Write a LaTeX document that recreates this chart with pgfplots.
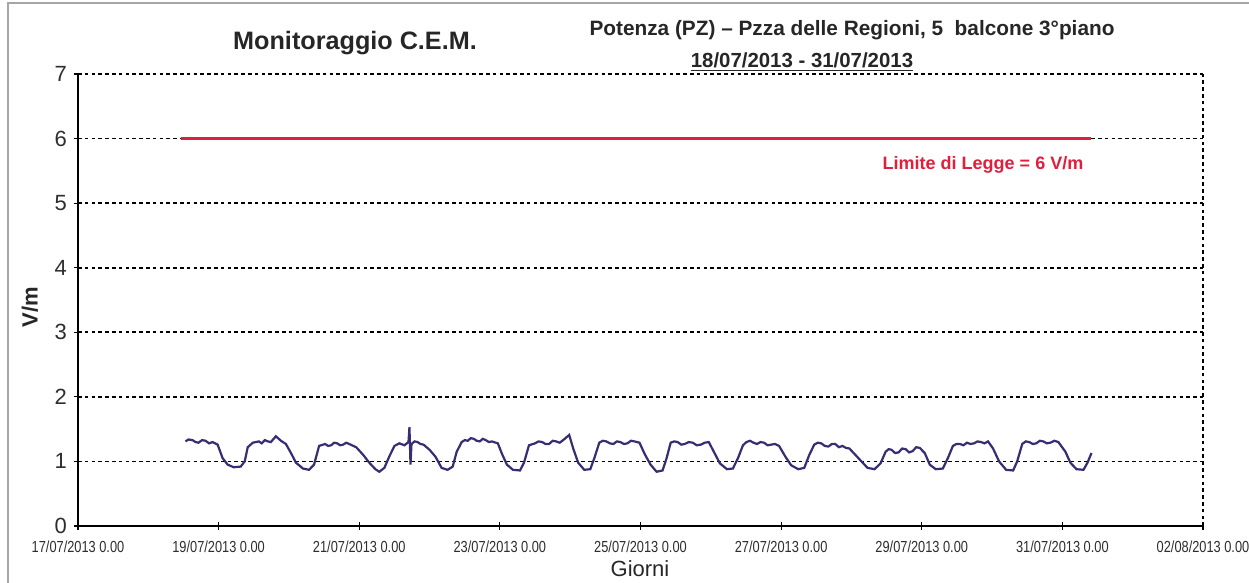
\documentclass[border=0pt]{standalone}
\usepackage{fontspec}
\setmainfont{Liberation Sans}
\usepackage{graphicx}
\usepackage{pgfplots}
\pgfplotsset{compat=1.18}
\definecolor{dataline}{RGB}{55,45,115}
\definecolor{limitred}{RGB}{225,30,60}
\definecolor{ticktext}{RGB}{45,45,50}
\newcommand{\xl}[1]{\scalebox{0.8}[1]{#1}}
\begin{document}
\begin{tikzpicture}
\useasboundingbox (-39pt,-28.5pt) rectangle (585.5pt,263pt);
\draw[gray!70, line width=0.8pt] (-35pt,-28.5pt) -- (-35pt,261.5pt) -- (585.5pt,261.5pt);
\begin{axis}[
  at={(0,0)}, anchor=south west,
  scale only axis,
  width=562.5pt, height=226pt,
  xmin=0, xmax=16, ymin=0, ymax=7,
  axis x line*=bottom, axis y line*=left,
  axis line style={black, line width=0.9pt, -},
  xtick={0,2,4,6,8,10,12,14,16},
  xticklabels={\xl{17/07/2013 0.00},\xl{19/07/2013 0.00},\xl{21/07/2013 0.00},\xl{23/07/2013 0.00},\xl{25/07/2013 0.00},\xl{27/07/2013 0.00},\xl{29/07/2013 0.00},\xl{31/07/2013 0.00},\xl{02/08/2013 0.00}},
  ytick={0,1,2,3,4,5,6,7},
  tick align=center,
  major tick length=4pt,
  tick style={black, line width=0.6pt},
  ymajorgrids,
  major grid style={black, line width=0.8pt, dash pattern=on 1.8pt off 1.6pt},
  /pgf/number format/assume math mode=true,
  yticklabel style={font=\fontsize{11}{11}\selectfont, text=ticktext},
  xticklabel style={font=\fontsize{8}{8}\selectfont, text=ticktext, yshift=-2pt},
  clip=false,
]
\draw[black, line width=0.8pt, dash pattern=on 1.8pt off 1.6pt] (axis cs:16,0) -- (axis cs:16,7);
\addplot[limitred, line width=1.5pt] coordinates {(1.47,6) (14.41,6)};
\addplot[dataline, line width=1.1pt] coordinates {
(1.529,1.31) (1.571,1.34) (1.629,1.33) (1.671,1.30) (1.714,1.29) (1.764,1.33) (1.814,1.32) (1.864,1.28) (1.914,1.30) (1.986,1.26)
(2.057,1.05) (2.129,0.95) (2.214,0.91) (2.314,0.92) (2.371,1.00) (2.414,1.22) (2.486,1.29) (2.571,1.31) (2.614,1.28) (2.657,1.33) (2.700,1.31) (2.743,1.30) (2.814,1.39) (2.886,1.32) (2.957,1.27)
(3.029,1.13) (3.100,0.98) (3.200,0.89) (3.286,0.87) (3.357,0.95) (3.429,1.24) (3.514,1.27) (3.557,1.24) (3.600,1.25) (3.643,1.29) (3.686,1.28) (3.729,1.25) (3.771,1.26) (3.814,1.29) (3.857,1.27) (3.957,1.22)
(4.057,1.10) (4.143,0.98) (4.229,0.88) (4.286,0.84) (4.357,0.90) (4.429,1.08) (4.500,1.24) (4.571,1.28) (4.643,1.25) (4.700,1.30) (4.714,1.53) (4.729,0.95) (4.743,1.27) (4.786,1.31) (4.829,1.30) (4.871,1.27) (4.914,1.26)
(5.000,1.18) (5.086,1.07) (5.171,0.90) (5.257,0.87) (5.329,0.92) (5.386,1.15) (5.457,1.30) (5.500,1.33) (5.543,1.32) (5.586,1.36) (5.629,1.35) (5.671,1.32) (5.714,1.31) (5.757,1.35) (5.800,1.33) (5.843,1.30) (5.886,1.31) (5.971,1.28)
(6.029,1.12) (6.100,0.95) (6.186,0.87) (6.286,0.86) (6.343,0.98) (6.414,1.25) (6.500,1.28) (6.550,1.31) (6.600,1.30) (6.650,1.27) (6.700,1.27) (6.750,1.32) (6.800,1.31) (6.850,1.29) (6.900,1.33) (6.986,1.41)
(7.043,1.20) (7.114,0.98) (7.200,0.87) (7.286,0.88) (7.343,1.05) (7.414,1.29) (7.464,1.32) (7.514,1.31) (7.564,1.28) (7.614,1.27) (7.664,1.31) (7.714,1.30) (7.764,1.27) (7.814,1.28) (7.864,1.32) (7.914,1.31) (7.986,1.29)
(8.057,1.12) (8.143,0.95) (8.229,0.84) (8.314,0.86) (8.371,1.05) (8.429,1.29) (8.479,1.31) (8.529,1.30) (8.579,1.26) (8.629,1.27) (8.686,1.30) (8.743,1.29) (8.800,1.25) (8.857,1.26) (8.914,1.29) (8.971,1.30)
(9.043,1.15) (9.129,0.97) (9.229,0.88) (9.314,0.89) (9.386,1.05) (9.457,1.25) (9.507,1.30) (9.557,1.32) (9.607,1.29) (9.657,1.27) (9.707,1.30) (9.757,1.29) (9.807,1.25) (9.857,1.26) (9.914,1.27) (9.971,1.24)
(10.057,1.08) (10.143,0.94) (10.243,0.88) (10.329,0.90) (10.400,1.10) (10.471,1.26) (10.521,1.29) (10.571,1.28) (10.621,1.24) (10.671,1.23) (10.721,1.27) (10.771,1.27) (10.821,1.22) (10.871,1.24) (10.921,1.21) (10.971,1.20)
(11.057,1.10) (11.143,1.00) (11.229,0.90) (11.329,0.88) (11.414,0.97) (11.486,1.15) (11.529,1.19) (11.571,1.18) (11.621,1.13) (11.671,1.14) (11.721,1.20) (11.771,1.19) (11.821,1.14) (11.871,1.16) (11.921,1.22) (11.971,1.21)
(12.043,1.13) (12.114,0.95) (12.200,0.88) (12.300,0.89) (12.371,1.05) (12.443,1.24) (12.493,1.27) (12.543,1.27) (12.593,1.25) (12.643,1.29) (12.693,1.27) (12.743,1.28) (12.793,1.31) (12.843,1.30) (12.893,1.28) (12.943,1.31)
(13.014,1.20) (13.100,1.00) (13.200,0.87) (13.300,0.86) (13.357,1.00) (13.429,1.27) (13.479,1.31) (13.529,1.30) (13.579,1.27) (13.629,1.28) (13.679,1.32) (13.729,1.31) (13.779,1.28) (13.829,1.29) (13.886,1.32) (13.943,1.30)
(14.043,1.15) (14.114,0.98) (14.200,0.88) (14.300,0.87) (14.357,0.98) (14.414,1.13)
};
\end{axis}
\node[font=\bfseries\fontsize{12.6}{13}\selectfont, text=black!85] at (138.5pt,241.5pt) {Monitoraggio C.E.M.};
\node[font=\bfseries\fontsize{10.4}{10}\selectfont, text=black!85] at (387pt,248pt) {Potenza (PZ) -- Pzza delle Regioni, 5\ \ balcone 3°piano};
\node[font=\bfseries\fontsize{10.2}{10}\selectfont, text=black!85] at (362pt,232pt) {\underline{18/07/2013 - 31/07/2013}};
\node[font=\bfseries\fontsize{9}{9}\selectfont, text=limitred] at (452.5pt,180.5pt) {Limite di Legge = 6 V/m};
\node[font=\fontsize{11}{11}\selectfont, text=black!85] at (281pt,-21.5pt) {Giorni};
\node[font=\bfseries\fontsize{11}{11}\selectfont, text=black!85, rotate=90] at (-24pt,109.5pt) {V/m};
\end{tikzpicture}
\end{document}
